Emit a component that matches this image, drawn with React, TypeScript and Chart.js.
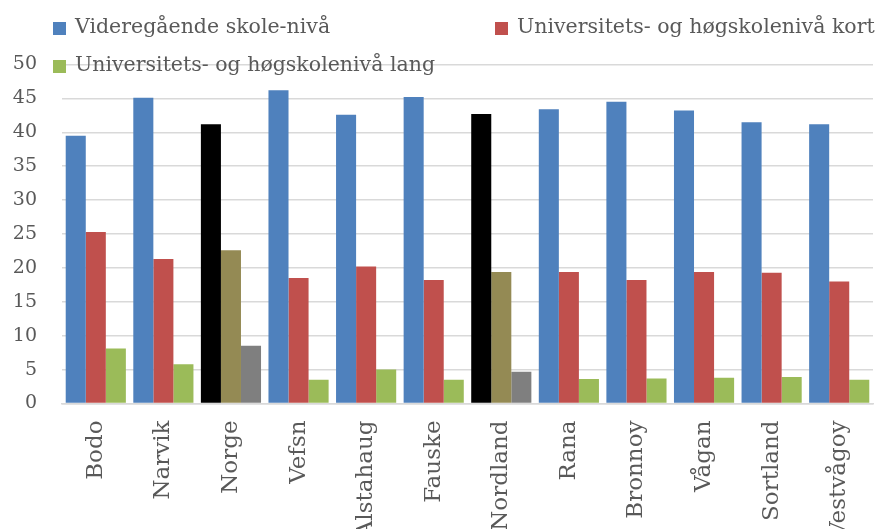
import React, { useEffect, useRef } from "react";
import { Chart, registerables } from "chart.js";

Chart.register(...registerables);

const categories = ["Bodo", "Narvik", "Norge", "Vefsn", "Alstahaug", "Fauske", "Nordland", "Rana", "Bronnoy", "Vågan", "Sortland", "Vestvågoy"];
const seriesNames = ["Videregående skole-nivå", "Universitets- og høgskolenivå kort", "Universitets- og høgskolenivå lang"];
const videregaende = [39.5, 45.1, 41.2, 46.2, 42.6, 45.2, 42.7, 43.4, 44.5, 43.2, 41.5, 41.2];
const uniKort = [25.3, 21.3, 22.6, 18.5, 20.2, 18.2, 19.4, 19.4, 18.2, 19.4, 19.3, 18.0];
const uniLang = [8.1, 5.8, 8.5, 3.5, 5.0, 3.5, 4.7, 3.6, 3.7, 3.8, 3.9, 3.5];
const yTicks = [0, 5, 10, 15, 20, 25, 30, 35, 40, 45, 50];
const highlighted = ["Norge", "Nordland"];

const baseColors = ["#4F81BD", "#C0504D", "#9BBB59"];
const highlightColors = ["#000000", "#948A54", "#7F7F7F"];

const legendPositions = [
  { x: 53, y: 22 },
  { x: 495, y: 22 },
  { x: 53, y: 60 },
];

const legendPlugin = {
  id: "customLegend",
  afterDraw(chart: any) {
    const ctx = chart.ctx;
    ctx.save();
    ctx.font = "20.5px 'DejaVu Serif'";
    ctx.textBaseline = "middle";
    ctx.textAlign = "left";
    seriesNames.forEach((name, i) => {
      const p = legendPositions[i];
      ctx.fillStyle = baseColors[i];
      ctx.fillRect(p.x, p.y, 13, 13);
      ctx.fillStyle = "#595959";
      ctx.fillText(name, p.x + 22, p.y + 6);
    });
    ctx.restore();
  },
};

export default function App() {
  const ref = useRef<HTMLCanvasElement>(null);
  useEffect(() => {
    if (!ref.current) return;
    const colorsFor = (idx: number) =>
      categories.map((c) => (highlighted.includes(c) ? highlightColors[idx] : baseColors[idx]));
    const chart = new Chart(ref.current, {
      type: "bar",
      data: {
        labels: categories,
        datasets: [
          { label: seriesNames[0], data: videregaende, backgroundColor: colorsFor(0) },
          { label: seriesNames[1], data: uniKort, backgroundColor: colorsFor(1) },
          { label: seriesNames[2], data: uniLang, backgroundColor: colorsFor(2) },
        ],
      },
      options: {
        responsive: false,
        animation: false,
        layout: { padding: { top: 64.5, right: 17, left: 0, bottom: 0 } },
        datasets: { bar: { barPercentage: 1, categoryPercentage: 0.89 } },
        plugins: { legend: { display: false }, tooltip: { enabled: false } },
        scales: {
          x: {
            grid: { display: false, drawTicks: false },
            border: { display: true, color: "#D9D9D9", width: 1.5 },
            ticks: {
              color: "#595959",
              font: { family: "'DejaVu Serif'", size: 23 },
              minRotation: 90,
              maxRotation: 90,
              padding: 17,
              autoSkip: false,
            },
            afterFit: (scale: any) => {
              scale.height = 125.5;
            },
          },
          y: {
            min: 0,
            max: 50,
            afterBuildTicks: (scale: any) => {
              scale.ticks = yTicks.map((v) => ({ value: v }));
            },
            grid: { color: "#D9D9D9", lineWidth: 1.5, drawTicks: false },
            border: { display: false },
            ticks: {
              color: "#595959",
              font: { family: "'DejaVu Serif'", size: 19 },
              padding: 25,
            },
            afterFit: (scale: any) => {
              scale.width = 62;
            },
          },
        },
      },
      plugins: [legendPlugin],
    });
    return () => chart.destroy();
  }, []);
  return (
    <div style={{ position: "fixed", left: 0, top: 0, width: 890, height: 529, background: "#fff" }}>
      <canvas ref={ref} width={890} height={529} style={{ display: "block" }} />
    </div>
  );
}
